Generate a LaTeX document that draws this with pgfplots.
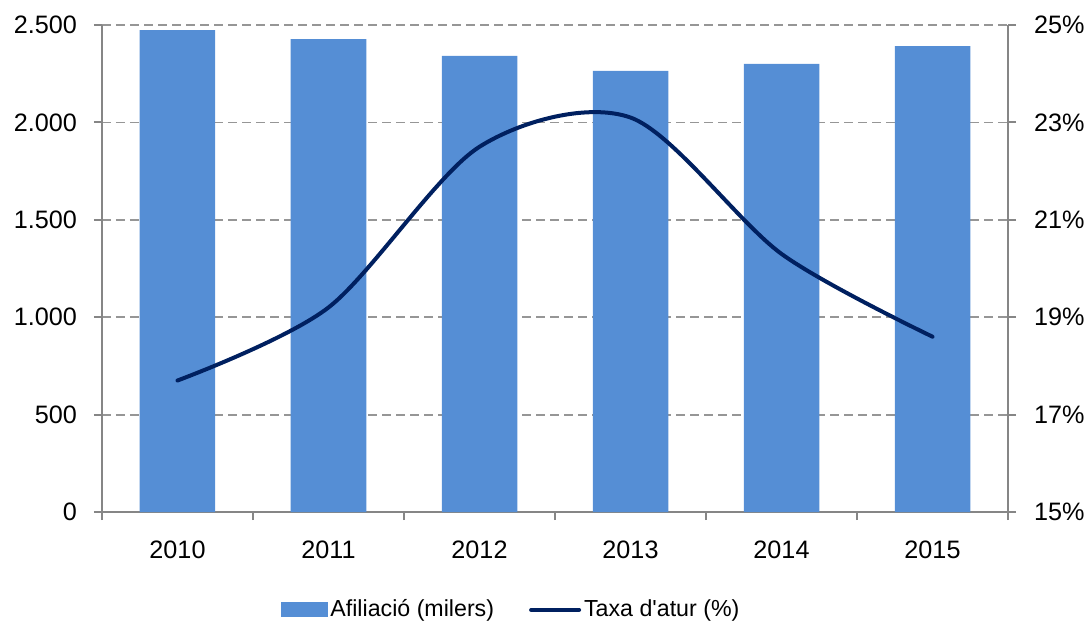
\documentclass[border=0pt]{standalone}
\usepackage{pgfplots}
\pgfplotsset{compat=1.18}
\usepackage{pgfplotstable}
\usepackage{fontspec}
\setmainfont{Liberation Sans}[Ligatures=TeXOff]
\definecolor{barblue}{RGB}{85,142,213}
\definecolor{navy}{RGB}{0,32,96}
\definecolor{axgray}{RGB}{134,134,134}
\definecolor{gridgray}{RGB}{150,150,150}
\pgfplotstableread{
x afil
0 2474
1 2428
2 2342
3 2264
4 2300
5 2392
}\afil
\pgfplotstableread{
x atur
0 17.7
1 19.2
2 22.5
3 23.1
4 20.3
5 18.6
}\atur
\begin{document}
\begin{tikzpicture}
\useasboundingbox (-51pt,-60.5pt) rectangle (494.5pt,256pt);
\begin{axis}[
  scale only axis, width=453pt, height=243.5pt,
  xmin=-0.5, xmax=5.5, ymin=0, ymax=2500,
  axis x line*=bottom, axis y line*=left,
  axis line style={axgray, line width=1pt},
  every tick/.style={axgray, line width=1pt},
  tick align=outside, major tick length=4pt,
  xtick={-0.5,0.5,1.5,2.5,3.5,4.5,5.5}, xticklabels={,,,,,,},
  extra x ticks={0,1,2,3,4,5},
  extra x tick labels={2010,2011,2012,2013,2014,2015},
  extra x tick style={major tick length=0pt, tick label style={yshift=-11pt}},
  ytick={0,500,1000,1500,2000,2500},
  yticklabels={0,500,1.000,1.500,2.000,2.500},
  yticklabel style={xshift=-5pt},
  ymajorgrids, grid style={gridgray, dash pattern=on 4.5pt off 2.5pt, line width=0.9pt},
  tick label style={font=\fontsize{12.6}{14}\selectfont, black},
  /pgf/number format/assume math mode=true,
  ybar, bar width=0.5,
]
\addplot[fill=barblue, draw=none] table[x=x, y=afil] {\afil};
\end{axis}
\begin{axis}[
  scale only axis, width=453pt, height=243.5pt,
  xmin=-0.5, xmax=5.5, ymin=15, ymax=25,
  axis x line=none, axis y line*=right,
  axis line style={axgray, line width=1pt},
  every tick/.style={axgray, line width=1pt},
  tick align=outside, major tick length=4pt,
  ytick={15,17,19,21,23,25},
  yticklabels={15\%,17\%,19\%,21\%,23\%,25\%},
  yticklabel style={xshift=5.5pt},
  tick label style={font=\fontsize{12.6}{14}\selectfont, black},
  /pgf/number format/assume math mode=true,
  legend columns=-1,
  legend style={draw=none, at={(0.452,-0.201)}, anchor=center,
    font=\fontsize{11.6}{13}\selectfont, inner sep=0pt,
    /tikz/every even column/.append style={column sep=16pt},
    nodes={inner sep=1.5pt}},
]
\addlegendimage{legend image code/.code={\fill[barblue] (0pt,-3.5pt) rectangle (23pt,3.5pt);}}
\addlegendentry{Afiliació (milers)}
\addplot[navy, line width=2pt, smooth, line cap=round,
  legend image code/.code={\draw[navy, line width=2pt, line cap=round] (0pt,0pt) -- (24pt,0pt);}]
  table[x=x, y=atur] {\atur};
\addlegendentry{Taxa d'atur (\%)}
\end{axis}
\end{tikzpicture}
\end{document}
